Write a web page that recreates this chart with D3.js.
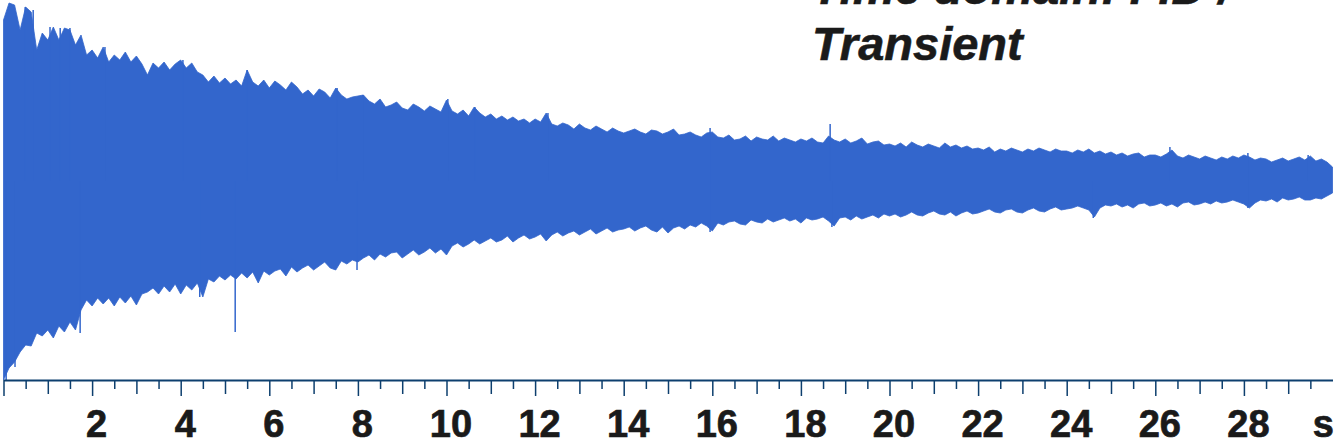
<!DOCTYPE html>
<html>
<head>
<meta charset="utf-8">
<script src="https://cdn.jsdelivr.net/npm/d3@7"></script>
<style>
  html, body { margin: 0; padding: 0; background: #fff; }
  svg { display: block; }
  .fid-title {
    font-family: "Liberation Sans", Arial, sans-serif;
    font-weight: bold;
    font-style: italic;
    font-size: 47px;
    fill: #1a1a1a;
    stroke: #1a1a1a;
    stroke-width: 0.6px;
  }
  .x-axis text, .unit-label {
    font-family: "Liberation Sans", Arial, sans-serif;
    font-weight: bold;
    font-size: 38px;
    fill: #1a1a1a;
    stroke: #1a1a1a;
    stroke-width: 0.7px;
  }
</style>
</head>
<body>
<svg class="fid-chart"></svg>
<script>
// acquisition time (s) of each envelope sample
const times = [
  0, 0.125, 0.25, 0.375, 0.5, 0.625, 0.75, 0.875, 1, 1.125, 1.25, 1.375, 1.5, 1.625, 1.75, 1.875,
  2, 2.125, 2.25, 2.375, 2.5, 2.625, 2.75, 2.875, 3, 3.125, 3.25, 3.375, 3.5, 3.625, 3.75, 3.875,
  4, 4.125, 4.25, 4.375, 4.5, 4.625, 4.75, 4.875, 5, 5.125, 5.25, 5.375, 5.5, 5.625, 5.75, 5.875,
  6, 6.125, 6.25, 6.375, 6.5, 6.625, 6.75, 6.875, 7, 7.125, 7.25, 7.375, 7.5, 7.625, 7.75, 7.875,
  8, 8.125, 8.25, 8.375, 8.5, 8.625, 8.75, 8.875, 9, 9.125, 9.25, 9.375, 9.5, 9.625, 9.75, 9.875,
  10, 10.125, 10.25, 10.375, 10.5, 10.625, 10.75, 10.875, 11, 11.125, 11.25, 11.375, 11.5, 11.625, 11.75, 11.875,
  12, 12.125, 12.25, 12.375, 12.5, 12.625, 12.75, 12.875, 13, 13.125, 13.25, 13.375, 13.5, 13.625, 13.75, 13.875,
  14, 14.125, 14.25, 14.375, 14.5, 14.625, 14.75, 14.875, 15, 15.125, 15.25, 15.375, 15.5, 15.625, 15.75, 15.875,
  16, 16.125, 16.25, 16.375, 16.5, 16.625, 16.75, 16.875, 17, 17.125, 17.25, 17.375, 17.5, 17.625, 17.75, 17.875,
  18, 18.125, 18.25, 18.375, 18.5, 18.625, 18.75, 18.875, 19, 19.125, 19.25, 19.375, 19.5, 19.625, 19.75, 19.875,
  20, 20.125, 20.25, 20.375, 20.5, 20.625, 20.75, 20.875, 21, 21.125, 21.25, 21.375, 21.5, 21.625, 21.75, 21.875,
  22, 22.125, 22.25, 22.375, 22.5, 22.625, 22.75, 22.875, 23, 23.125, 23.25, 23.375, 23.5, 23.625, 23.75, 23.875,
  24, 24.125, 24.25, 24.375, 24.5, 24.625, 24.75, 24.875, 25, 25.125, 25.25, 25.375, 25.5, 25.625, 25.75, 25.875,
  26, 26.125, 26.25, 26.375, 26.5, 26.625, 26.75, 26.875, 27, 27.125, 27.25, 27.375, 27.5, 27.625, 27.75, 27.875,
  28, 28.125, 28.25, 28.375, 28.5, 28.625, 28.75, 28.875, 29, 29.125, 29.25, 29.375, 29.5, 29.625, 29.75, 29.875,
  30
];

// positive peaks of the FID (arbitrary units)
const upperEnvelope = [
  161, 178, 176, 151, 174, 169, 131, 148, 141, 154, 141, 153, 151, 136, 146, 126,
  131, 123, 134, 119, 126, 121, 129, 119, 125, 117, 106, 118, 113, 119, 111, 117,
  121, 113, 118, 109, 106, 99, 105, 98, 103, 97, 101, 95, 111, 99, 95, 101,
  93, 100, 96, 91, 99, 94, 87, 91, 85, 92, 89, 83, 93, 86, 82, 84,
  85, 86, 80, 77, 82, 74, 76, 79, 73, 71, 77, 74, 70, 75, 72, 69,
  81, 70, 67, 71, 65, 74, 68, 64, 67, 62, 65, 61, 64, 60, 62, 58,
  62, 59, 68, 57, 55, 58, 56, 52, 57, 53, 51, 55, 52, 49, 53, 50,
  48, 50, 52, 49, 47, 51, 50, 47, 49, 52, 46, 47, 49, 46, 44, 48,
  49, 44, 43, 46, 41, 42, 45, 40, 44, 42, 41, 45, 40, 43, 41, 39,
  42, 40, 43, 39, 38, 45, 41, 39, 42, 38, 40, 43, 37, 39, 40, 36,
  37, 35, 38, 34, 39, 36, 34, 37, 35, 33, 38, 34, 36, 33, 35, 32,
  33, 31, 34, 29, 32, 30, 33, 31, 29, 32, 30, 33, 31, 29, 32, 30,
  30, 28, 31, 29, 32, 28, 30, 27, 29, 26, 28, 25, 27, 28, 24, 26,
  26, 24, 27, 31, 25, 23, 26, 24, 22, 25, 23, 21, 24, 22, 25, 23,
  26, 24, 21, 23, 22, 19, 21, 23, 20, 22, 24, 21, 25, 20, 22, 19,
  14
];

// negative peaks of the FID (arbitrary units)
const lowerEnvelope = [
  -199, -187, -181, -171, -164, -165, -152, -155, -149, -157, -145, -151, -141, -149, -129, -119,
  -125, -117, -123, -117, -125, -116, -122, -115, -124, -113, -111, -107, -113, -105, -111, -103,
  -113, -104, -109, -102, -116, -98, -101, -95, -99, -94, -98, -92, -97, -91, -102, -90,
  -94, -90, -88, -95, -86, -91, -87, -84, -89, -85, -81, -87, -89, -80, -83, -79,
  -81, -77, -74, -79, -73, -76, -72, -71, -77, -73, -69, -74, -71, -67, -72, -68,
  -74, -65, -62, -66, -63, -59, -63, -60, -57, -61, -59, -55, -61, -57, -54, -58,
  -56, -53, -60, -54, -51, -55, -52, -50, -54, -51, -48, -53, -50, -47, -51, -49,
  -48, -46, -50, -47, -45, -49, -51, -46, -52, -47, -45, -48, -44, -46, -42, -45,
  -50, -42, -44, -41, -40, -43, -44, -39, -41, -42, -38, -41, -39, -37, -40, -38,
  -42, -37, -39, -38, -36, -40, -45, -37, -36, -39, -35, -38, -36, -34, -37, -33,
  -35, -33, -36, -34, -31, -34, -35, -32, -30, -33, -34, -31, -35, -32, -30, -33,
  -32, -30, -28, -31, -32, -29, -28, -31, -32, -29, -27, -30, -31, -28, -26, -29,
  -28, -27, -25, -27, -29, -36, -27, -24, -25, -23, -26, -24, -27, -23, -22, -25,
  -24, -22, -25, -23, -26, -22, -21, -24, -23, -21, -23, -20, -22, -21, -19, -21,
  -23, -27, -22, -19, -20, -18, -21, -17, -19, -18, -16, -19, -19, -17, -18, -15,
  -12
];

// isolated needles that stick out of the envelope
const upperSpikeTimes = [0.49, 0.67, 1.05, 1.28, 1.5, 2.29, 4.05, 5.5, 7.53, 8.11, 10.03, 10.64, 12.29, 15.95, 18.66, 26.33, 28.09, 29.45];
const upperSpikeValues = [174, 171, 154, 153, 153, 134, 121, 111, 93, 86, 82, 74, 68, 53, 57, 34, 28, 26];
const lowerSpikeTimes = [0.06, 0.26, 1.73, 4.43, 5.23, 7.98, 15.95, 18.7, 24.6, 28.09];
const lowerSpikeValues = [-199, -186, -152, -116, -151, -89, -51, -46, -37, -27];

const tickLabels = [2, 4, 6, 8, 10, 12, 14, 16, 18, 20, 22, 24, 26, 28];
const unitLabel = "s";
const titleLines = ["Time domain: FID /", "Transient"];

const chartSettings = {
  width: 1336,
  height: 447,
  axisY: 380,
  signalColor: "#3366cc",
  axisColor: "#0d3f6e",
};

const svg = d3.select(".fid-chart")
  .attr("width", chartSettings.width)
  .attr("height", chartSettings.height);

const x = d3.scaleLinear().domain([0, 30]).range([3.5, 1332.5]);
const y = d3.scaleLinear().domain([-200, 181]).range([381, 0]);

// signal body
const area = d3.area()
  .x((d) => x(d))
  .y0((d, i) => y(lowerEnvelope[i]))
  .y1((d, i) => y(upperEnvelope[i]));

svg.append("path")
  .datum(times)
  .attr("class", "fid-signal")
  .attr("fill", chartSettings.signalColor)
  .attr("stroke", chartSettings.signalColor)
  .attr("stroke-width", 0.8)
  .attr("d", area);

const spikes = svg.append("g").attr("class", "fid-spikes")
  .attr("stroke", chartSettings.signalColor)
  .attr("stroke-width", 1.5);

spikes.selectAll("line.up")
  .data(upperSpikeTimes)
  .join("line")
  .attr("class", "up")
  .attr("x1", (d) => x(d))
  .attr("x2", (d) => x(d))
  .attr("y1", y(0))
  .attr("y2", (d, i) => y(upperSpikeValues[i]));

spikes.selectAll("line.down")
  .data(lowerSpikeTimes)
  .join("line")
  .attr("class", "down")
  .attr("x1", (d) => x(d))
  .attr("x2", (d) => x(d))
  .attr("y1", y(0))
  .attr("y2", (d, i) => y(lowerSpikeValues[i]));

// time axis: long ticks every 2 s, medium every 1 s, short every 0.5 s
const tickPositions = d3.range(0, 30, 0.5);

const xAxis = d3.axisBottom(x)
  .tickValues(tickPositions)
  .tickSizeOuter(0)
  .tickFormat((d) => (tickLabels.includes(d) ? d : ""));

const axisGroup = svg.append("g")
  .attr("class", "x-axis")
  .attr("transform", `translate(0,${chartSettings.axisY})`)
  .call(xAxis);

axisGroup.select(".domain")
  .attr("stroke", chartSettings.axisColor)
  .attr("stroke-width", 2);

axisGroup.selectAll(".tick line")
  .attr("stroke", chartSettings.axisColor)
  .attr("stroke-width", 1.5)
  .attr("y2", (d) => (d % 2 === 0 ? 16 : d % 1 === 0 ? 14 : 9));

axisGroup.selectAll(".tick text")
  .attr("dx", 4)
  .attr("y", 57)
  .attr("dy", 0);

svg.append("text")
  .attr("class", "unit-label")
  .attr("x", 1334)
  .attr("y", chartSettings.axisY + 57)
  .attr("text-anchor", "end")
  .text(unitLabel);

// title, top line runs off the page edge
svg.append("g")
  .selectAll("text")
  .data(titleLines)
  .join("text")
  .attr("class", "fid-title")
  .attr("x", 812)
  .attr("y", (d, i) => 4 + i * 56)
  .text((d) => d);
</script>
</body>
</html>
